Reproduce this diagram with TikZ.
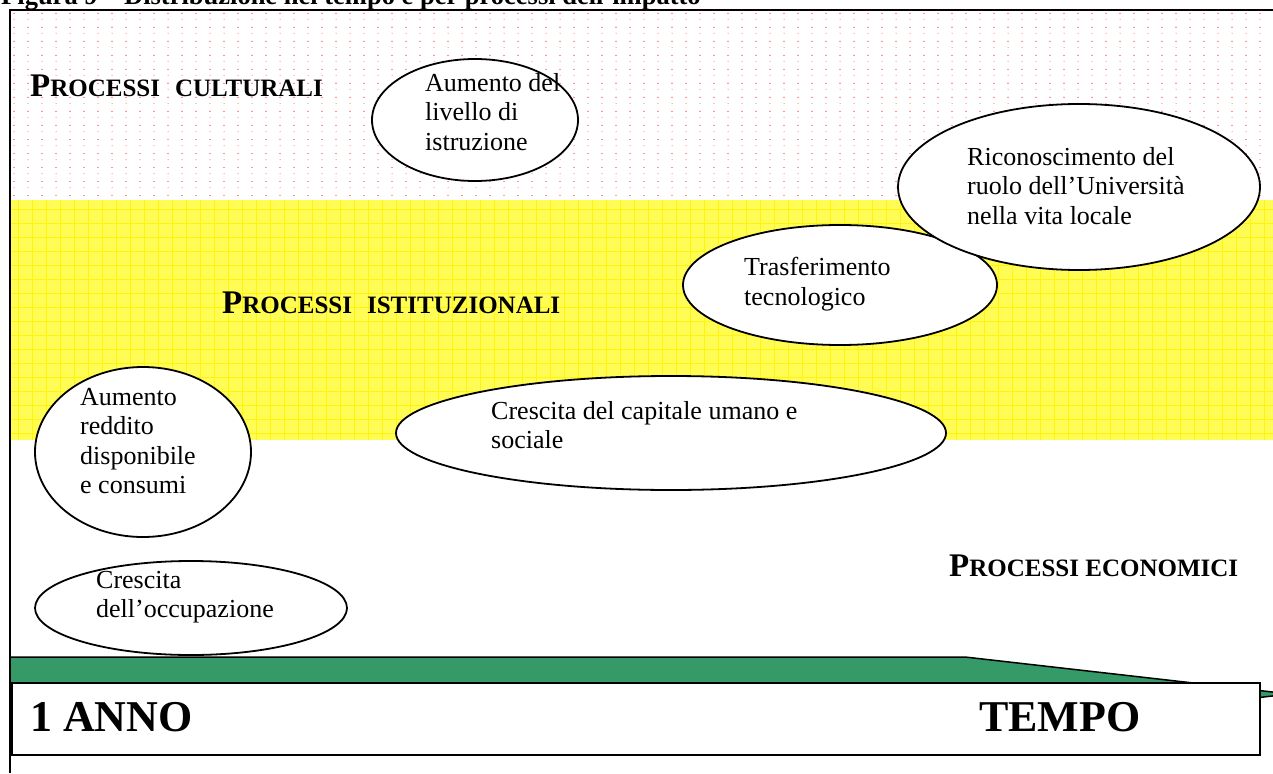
\documentclass[tikz,border=0pt]{standalone}
\usepackage{fontspec}
\setmainfont{Liberation Serif}
\usetikzlibrary{shapes.geometric}
\definecolor{dotpink}{RGB}{255,150,150}
\definecolor{bandyellow}{RGB}{255,252,85}
\definecolor{bandgrid}{RGB}{255,244,10}
\definecolor{arrowgreen}{RGB}{54,153,104}
\newcommand{\bigP}{{\fontsize{33}{36}\selectfont P}}
\begin{document}
\begin{tikzpicture}[x=1pt,y=-1pt,
  bubble/.style={draw, line width=1.8pt, fill=white, ellipse, inner sep=0pt},
  txt/.style={anchor=north west, inner sep=0pt, align=left, font=\fontsize{26}{29.5}\selectfont},
  head/.style={anchor=base west, inner sep=0pt, font=\bfseries\fontsize{25}{30}\selectfont},
  bigtxt/.style={anchor=base west, inner sep=0pt, font=\bfseries\fontsize{44}{50}\selectfont}]
\useasboundingbox (0,0) rectangle (1273,773);
\fill[white] (0,0) rectangle (1273,773);
% title (cut by the page top)
\node[anchor=base west, inner sep=0pt, font=\bfseries\fontsize{26.5}{30}\selectfont] (title) at (1,5) {Figura 9 – Distribuzione nel tempo e per processi dell’impatto};
% dotted band
\fill[dotpink] foreach \i in {1,...,90} {foreach \j in {0,...,13} {(14*\i-0.8,13+14*\j) rectangle ++(1.6,0.9) (14*\i-0.5,19+14*\j) rectangle ++(1,1)}};
% yellow band
\fill[bandyellow] (11,200) rectangle (1273,440);
\draw[bandgrid, line width=0.7pt] foreach \i in {1,...,90} {(14*\i+4,200) -- (14*\i+4,440)};
\draw[bandgrid, line width=0.7pt] foreach \j in {0,...,16} {(11,209+14*\j) -- (1273,209+14*\j)};
% frame
\draw[line width=2.5pt] (10,773) -- (10,10) -- (1273,10);
% headings
\node[head] (hcult) at (30,97) {\bigP ROCESSI\hspace{0.35em} CULTURALI};
\node[head] (hist) at (222,313) {\bigP ROCESSI\hspace{0.35em} ISTITUZIONALI};
\node[head] (heco) at (949,576) {\bigP ROCESSI ECONOMICI};
% bubbles
\node[bubble, minimum width=206, minimum height=122] (e1) at (475,120) {};
\node[txt] (t1) at (425,73) {Aumento del\\livello di\\istruzione};
\node[bubble, minimum width=314, minimum height=120] (e3) at (840,285) {};
\node[txt] (t3) at (744,257) {Trasferimento\\tecnologico};
\node[bubble, minimum width=362, minimum height=166] (e2) at (1079,187) {};
\node[txt] (t2) at (967,147) {Riconoscimento del\\ruolo dell’Università\\nella vita locale};
\node[bubble, minimum width=550, minimum height=114] (e4) at (671,433) {};
\node[txt] (t4) at (491,401) {Crescita del capitale umano e\\sociale};
\node[bubble, minimum width=216, minimum height=170] (e5) at (143,452) {};
\node[txt] (t5) at (80,388) {Aumento\\reddito\\disponibile\\e consumi};
\node[bubble, minimum width=312, minimum height=94] (e6) at (191,608) {};
\node[txt] (t6) at (96,571) {Crescita\\dell’occupazione};
% time arrow
\draw[fill=arrowgreen, line width=1.5pt] (10,657) -- (965,657) -- (1290,694) -- (965,731) -- (10,731) -- cycle;
\node[draw, fill=white, line width=1.8pt, anchor=north west, minimum width=1248, minimum height=72, inner sep=0pt] (tbox) at (11,682) {};
\node[bigtxt] (anno) at (30,731) {1 ANNO};
\node[bigtxt] (tempo) at (979,731) {TEMPO};
\end{tikzpicture}
\end{document}
